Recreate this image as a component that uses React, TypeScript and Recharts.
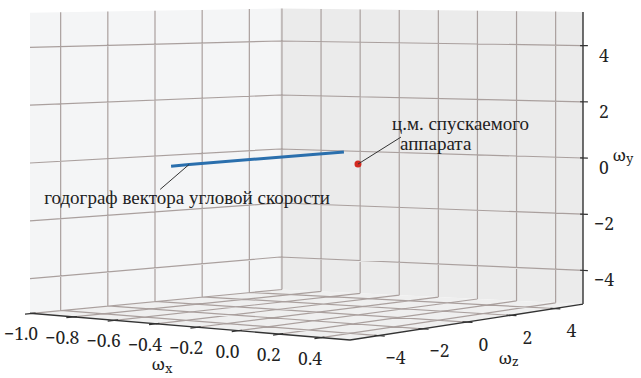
import React from 'react';
import { ScatterChart, Scatter, XAxis, YAxis } from 'recharts';

// axis ticks and limits (data space)
const xTicks = [-1.0, -0.8, -0.6, -0.4, -0.2, 0.0, 0.2, 0.4];
const yTicks = [-4, -2, 0, 2, 4];
const zTicks = [-4, -2, 0, 2, 4];
const xLimits = [-1.01, 0.54];
const yLimits = [-5.2, 5.2];
const zLimits = [-5.3, 5.3];

// hodograph of the angular velocity vector
const hodoX = [-0.93, -0.84, -0.5, -0.07];
const hodoY = [-0.34, -0.25, 0.04, 0.4];
const hodoZ = [0, 0, 0, 0];

// centre of mass of the descent vehicle
const comX = [0];
const comY = [0];
const comZ = [0];

const hodoLabel = 'годограф вектора угловой скорости';
const comLabel = ['ц.м. спускаемого', 'аппарата'];

const SERIF = "'Liberation Serif', serif";
const TICK_FONT = "'Noto Serif', 'Liberation Serif', serif";

// screen placement of the box (floor corners: [xmin,zmin], [xmin,zmax], [xmax,zmax], [xmax,zmin])
const CORNER_PX = [30, 280, 583, 350];
const CORNER_Y0 = [163, 149, 158, 178.8];
const CORNER_S = [28.9, 27, 28.1, 31];

type P3 = { x: number; y: number; z: number };

function project(p: P3) {
  const u = (p.x - xLimits[0]) / (xLimits[1] - xLimits[0]);
  const v = (p.z - zLimits[0]) / (zLimits[1] - zLimits[0]);
  const bl = (c: number[]) =>
    c[0] * (1 - u) * (1 - v) + c[1] * (1 - u) * v + c[2] * u * v + c[3] * u * (1 - v);
  return { px: bl(CORNER_PX), py: bl(CORNER_Y0) - p.y * bl(CORNER_S) };
}

const P = (x: number, y: number, z: number) => project({ x, y, z });

const [x0, x1] = xLimits;
const [y0, y1] = yLimits;
const [z0, z1] = zLimits;

const leftPane = [P(x0, y0, z0), P(x0, y0, z1), P(x0, y1, z1), P(x0, y1, z0)];
const backPane = [P(x0, y0, z1), P(x1, y0, z1), P(x1, y1, z1), P(x0, y1, z1)];
const floorPane = [P(x0, y0, z0), P(x0, y0, z1), P(x1, y0, z1), P(x1, y0, z0)];

const gridSegs: { px: number; py: number }[] = [];
zTicks.forEach((z) => gridSegs.push(P(x0, y0, z), P(x0, y1, z)));
yTicks.forEach((y) => gridSegs.push(P(x0, y, z0), P(x0, y, z1)));
xTicks.forEach((x) => gridSegs.push(P(x, y0, z1), P(x, y1, z1)));
yTicks.forEach((y) => gridSegs.push(P(x0, y, z1), P(x1, y, z1)));
xTicks.forEach((x) => gridSegs.push(P(x, y0, z0), P(x, y0, z1)));
zTicks.forEach((z) => gridSegs.push(P(x0, y0, z), P(x1, y0, z)));

const axisSegs = [
  P(x0, y0, z0), P(x1, y0, z0),
  P(x1, y0, z0), P(x1, y0, z1),
  P(x1, y0, z1), P(x1, y1, z1),
];
const tickSegs: { px: number; py: number }[] = [];
xTicks.forEach((x) => tickSegs.push(P(x, y0, z0 + 0.15), P(x, y0, z0 - 0.3)));
zTicks.forEach((z) => tickSegs.push(P(x1 - 0.02, y0, z), P(x1 + 0.03, y0, z)));
yTicks.forEach((y) => tickSegs.push(P(x1 - 0.015, y, z1), P(x1 + 0.025, y, z1)));

const fmt = (v: number, d: number) => v.toFixed(d).replace('-', '\u2212');

const tickLabels = [
  ...xTicks.map((x) => ({ ...P(x, y0, z0), text: fmt(x, 1), dx: -11, dy: 20 })),
  ...zTicks.map((z) => ({ ...P(x1, y0, z), text: fmt(z, 0), dx: 17, dy: 21.5 })),
  ...yTicks.map((y) => ({ ...P(x1, y, z1), text: fmt(y, 0), dx: 21, dy: 9 })),
];

const axisLabels = [
  { ...P((x0 + x1) / 2, y0, z0), main: 'ω', sub: 'x', dx: -28, dy: 37 },
  { ...P(x1, y0, (z0 + z1) / 2), main: 'ω', sub: 'z', dx: 42, dy: 35 },
  { ...P(x1, 0, z1), main: 'ω', sub: 'y', dx: 40, dy: -4 },
];

const hodoData = hodoX.map((x, i) => P(x, hodoY[i], hodoZ[i]));
const comData = comX.map((x, i) => P(x, comY[i], comZ[i]));

const annotations = [
  { ...hodoData[1], lines: [hodoLabel], lx: -29, ly: 25, tx: -145, ty: 40, step: 20, indent: 0 },
  { ...comData[0], lines: comLabel, lx: 43, ly: -27, tx: 34, ty: -34, step: 20, indent: 8 },
];

const Empty = () => <g />;

const polygonLine = (fill: string) => (props: any) => (
  <polygon
    points={props.points.map((p: any) => `${p.x},${p.y}`).join(' ')}
    fill={fill}
    stroke="none"
  />
);

const segmentLine = (stroke: string, width: number) => (props: any) => {
  const pts = props.points;
  let d = '';
  for (let i = 0; i + 1 < pts.length; i += 2) {
    d += `M${pts[i].x},${pts[i].y}L${pts[i + 1].x},${pts[i + 1].y}`;
  }
  return <path d={d} stroke={stroke} strokeWidth={width} fill="none" />;
};

const TickText = (props: any) => {
  const { cx, cy, payload } = props;
  return (
    <text
      x={cx + payload.dx}
      y={cy + payload.dy}
      textAnchor="middle"
      dominantBaseline="central"
      style={{ fontFamily: TICK_FONT, fontSize: 17.5 }}
      fill="#222"
    >
      {payload.text}
    </text>
  );
};

const AxisText = (props: any) => {
  const { cx, cy, payload } = props;
  return (
    <text
      x={cx + payload.dx}
      y={cy + payload.dy}
      textAnchor="middle"
      dominantBaseline="central"
      style={{ fontFamily: TICK_FONT, fontSize: 17 }}
      fill="#222"
    >
      {payload.main}
      <tspan style={{ fontSize: 13 }} dy={4}>{payload.sub}</tspan>
    </text>
  );
};

const AnnotationShape = (props: any) => {
  const { cx, cy, payload } = props;
  return (
    <g>
      <line x1={cx} y1={cy} x2={cx + payload.lx} y2={cy + payload.ly} stroke="#333" strokeWidth={1} />
      {payload.lines.map((t: string, i: number) => (
        <text
          key={i}
          x={cx + payload.tx + (i > 0 ? payload.indent : 0)}
          y={cy + payload.ty + i * payload.step}
          style={{ fontFamily: SERIF, fontSize: 19 }}
          fill="#222"
        >
          {t}
        </text>
      ))}
    </g>
  );
};

const RedDot = (props: any) => <circle cx={props.cx} cy={props.cy} r={3.5} fill="#d42a20" />;

export default function App() {
  return (
    <div style={{ position: 'absolute', left: 0, top: 0, width: 641, height: 378, background: '#fff' }}>
      <ScatterChart width={641} height={378} margin={{ top: 0, right: 0, bottom: 0, left: 0 }}>
        <XAxis type="number" dataKey="px" domain={[0, 641]} allowDataOverflow hide />
        <YAxis type="number" dataKey="py" domain={[0, 378]} allowDataOverflow reversed hide />

        <Scatter data={leftPane} shape={Empty} line={polygonLine('#f4f5f6')} isAnimationActive={false} />
        <Scatter data={backPane} shape={Empty} line={polygonLine('#ebebeb')} isAnimationActive={false} />
        <Scatter data={floorPane} shape={Empty} line={polygonLine('#efefef')} isAnimationActive={false} />
        <Scatter data={gridSegs} shape={Empty} line={segmentLine('#aaa09e', 1.2)} isAnimationActive={false} />
        <Scatter data={axisSegs} shape={Empty} line={segmentLine('#333', 1.4)} isAnimationActive={false} />
        <Scatter data={tickSegs} shape={Empty} line={segmentLine('#333', 1.2)} isAnimationActive={false} />

        <Scatter
          data={hodoData}
          shape={Empty}
          line={{ stroke: '#2a6fad', strokeWidth: 3 }}
          isAnimationActive={false}
        />
        <Scatter data={comData} shape={RedDot} isAnimationActive={false} />

        <Scatter data={tickLabels} shape={TickText} isAnimationActive={false} />
        <Scatter data={axisLabels} shape={AxisText} isAnimationActive={false} />
        <Scatter data={annotations} shape={AnnotationShape} isAnimationActive={false} />
      </ScatterChart>
    </div>
  );
}
